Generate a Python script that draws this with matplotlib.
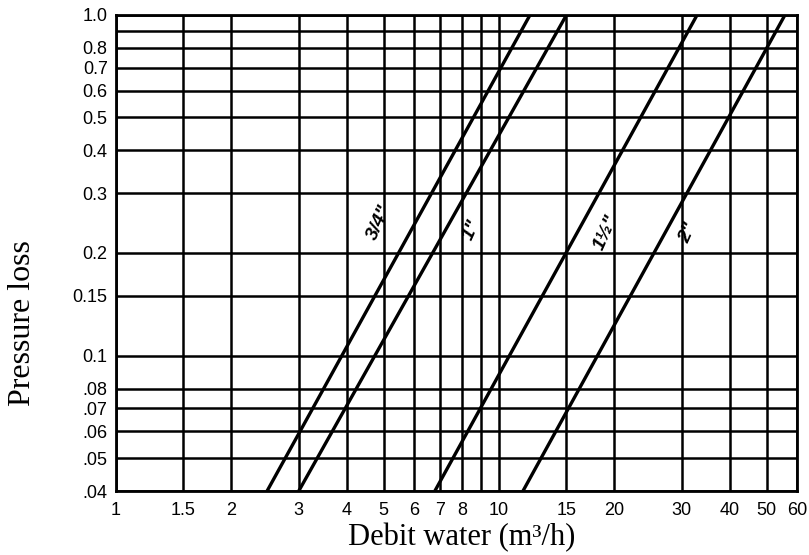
import matplotlib
matplotlib.use("Agg")
import matplotlib.pyplot as plt
from matplotlib.ticker import FixedLocator, FixedFormatter, NullLocator

# Pipe sizes and where each line meets the bottom (0.04) and top (1.0) of the chart
pipe_sizes = ['3/4"', '1"', '1½"', '2"']
flow_at_bottom = [2.48, 3.0, 6.8, 11.55]
flow_at_top = [12.05, 15.0, 32.9, 55.8]
loss_range = [0.04, 1.0]

# Label positions for each pipe size
label_x = [4.85, 8.5, 19.0, 31.3]
label_y = [0.246, 0.233, 0.23, 0.229]

x_grid = [1, 1.5, 2, 3, 4, 5, 6, 7, 8, 9, 10, 15, 20, 30, 40, 50, 60]
x_ticks = [1, 1.5, 2, 3, 4, 5, 6, 7, 8, 10, 15, 20, 30, 40, 50, 60]
x_labels = ['1', '1.5', '2', '3', '4', '5', '6', '7', '8', '10', '15', '20', '30', '40', '50', '60']
y_grid = [0.04, 0.05, 0.06, 0.07, 0.08, 0.1, 0.15, 0.2, 0.3, 0.4, 0.5, 0.6, 0.7, 0.8, 0.9, 1.0]
y_ticks = [0.04, 0.05, 0.06, 0.07, 0.08, 0.1, 0.15, 0.2, 0.3, 0.4, 0.5, 0.6, 0.7, 0.8, 1.0]
y_labels = ['.04', '.05', '.06', '.07', '.08', '0.1', '0.15', '0.2', '0.3', '0.4', '0.5', '0.6', '0.7', '0.8', '1.0']

fig = plt.figure(figsize=(8.09, 5.55), dpi=100)
ax = fig.add_axes([0.1434, 0.1153, 0.8418, 0.8577])
ax.set_xscale('log')
ax.set_yscale('log')
ax.set_xlim(1, 60)
ax.set_ylim(0.04, 1.0)

for gx in x_grid:
    ax.axvline(gx, color='black', linewidth=1.8, zorder=1)
for gy in y_grid:
    ax.axhline(gy, color='black', linewidth=1.8, zorder=1)

for i in range(len(pipe_sizes)):
    ax.plot([flow_at_bottom[i], flow_at_top[i]], loss_range, color='black', linewidth=2.4,
            solid_capstyle='butt', zorder=3)
    ax.text(label_x[i], label_y[i], pipe_sizes[i], rotation=66, ha='center', va='center',
            fontsize=14, fontweight='bold', fontstyle='italic', family='Liberation Sans',
            zorder=4)

ax.xaxis.set_major_locator(FixedLocator(x_ticks))
ax.xaxis.set_major_formatter(FixedFormatter(x_labels))
ax.xaxis.set_minor_locator(NullLocator())
ax.yaxis.set_major_locator(FixedLocator(y_ticks))
ax.yaxis.set_major_formatter(FixedFormatter(y_labels))
ax.yaxis.set_minor_locator(NullLocator())
ax.tick_params(axis='x', length=0, pad=8)
ax.tick_params(axis='y', length=0, pad=6)
for lab in ax.get_xticklabels() + ax.get_yticklabels():
    lab.set_family('Liberation Sans')
    lab.set_fontsize(13)

for s in ax.spines.values():
    s.set_linewidth(2)

ax.set_xlabel('Debit water (m³/h)', family='Liberation Serif', fontsize=22, va='center')
ax.set_ylabel('Pressure loss', family='Liberation Serif', fontsize=23, va='center')
ax.xaxis.set_label_coords(0.507, -0.097)
ax.yaxis.set_label_coords(-0.138, 0.353)

fig.savefig('out.png', dpi=100)
